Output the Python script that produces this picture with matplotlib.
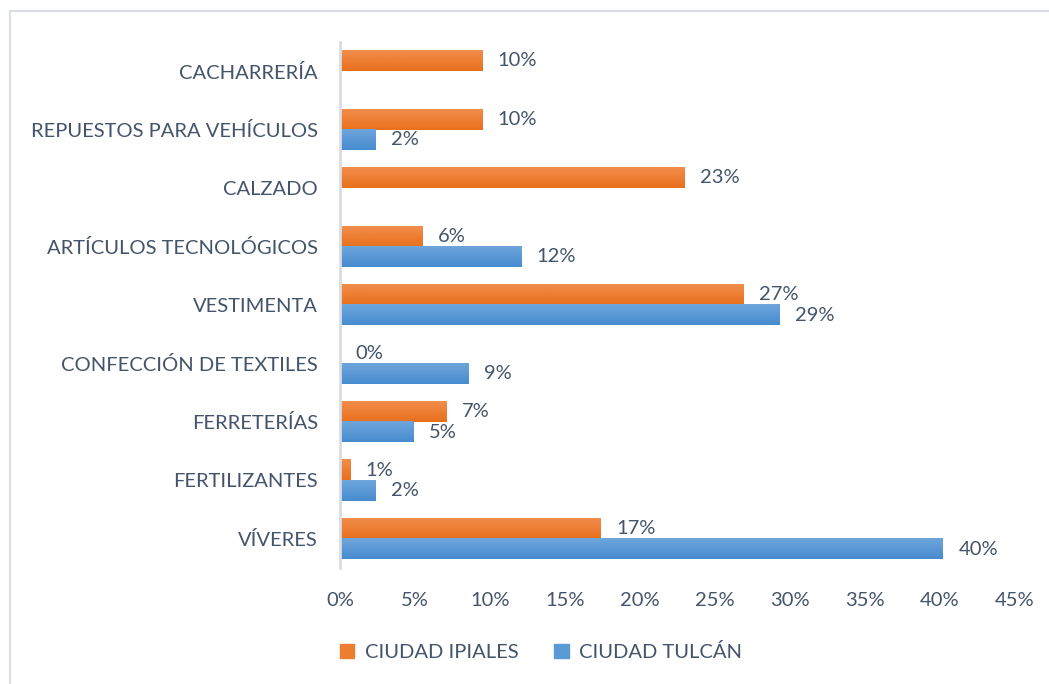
import matplotlib
matplotlib.use('Agg')
import matplotlib.pyplot as plt
import numpy as np
from matplotlib.lines import Line2D
from matplotlib.patches import Rectangle

plt.rcParams['font.family'] = ['Lato', 'DejaVu Sans']

# Datos
categorias = ['CACHARRERÍA', 'REPUESTOS PARA VEHÍCULOS', 'CALZADO',
              'ARTÍCULOS TECNOLÓGICOS', 'VESTIMENTA', 'CONFECCIÓN DE TEXTILES',
              'FERRETERÍAS', 'FERTILIZANTES', 'VÍVERES']
ipiales = [9.5, 9.5, 23.0, 5.5, 26.9, 0.0, 7.1, 0.7, 17.4]
tulcan = [None, 2.4, None, 12.1, 29.3, 8.6, 4.9, 2.4, 40.2]
ticks = [0, 5, 10, 15, 20, 25, 30, 35, 40, 45]

txt = '#44546A'
naranja = ('#F28D4C', '#E8701C')
azul = ('#6EA6DC', '#478BCF')

fig = plt.figure(figsize=(10.49, 6.84), dpi=100)
ax = fig.add_axes([340/1049, 116/684, 675/1049, 526/684])

h = 0.35
fs = 14.5
grad = np.linspace(0, 1, 50).reshape(-1, 1)

def barra(y, v, cols):
    c1 = np.array(matplotlib.colors.to_rgb(cols[0]))
    c2 = np.array(matplotlib.colors.to_rgb(cols[1]))
    img = c1 + (c2 - c1) * grad[:, :, None]
    ax.imshow(img, extent=[0, v, y + h/2, y - h/2], aspect='auto',
              origin='upper', zorder=2)

for i, cat in enumerate(categorias):
    v = ipiales[i]
    y = i - h/2
    if v > 0:
        barra(y, v, naranja)
    ax.annotate('%d%%' % round(v), (v, y), xytext=(11, 0), textcoords='offset points',
                va='center', ha='left', fontsize=fs, color=txt)
    v = tulcan[i]
    if v is None:
        continue
    y = i + h/2
    barra(y, v, azul)
    ax.annotate('%d%%' % round(v), (v, y), xytext=(11, 0), textcoords='offset points',
                va='center', ha='left', fontsize=fs, color=txt)

ax.set_xlim(0, 45)
ax.set_ylim(len(categorias) - 0.5, -0.5)
ax.set_yticks(range(len(categorias)))
ax.set_yticklabels(categorias)
ax.set_xticks(ticks)
ax.set_xticklabels(['%d%%' % t for t in ticks])
ax.tick_params(length=0, labelsize=fs, colors=txt)
ax.tick_params(axis='x', pad=17)
ax.tick_params(axis='y', pad=16)
for s in ['top', 'right', 'bottom']:
    ax.spines[s].set_visible(False)
ax.spines['left'].set_color('#D9DDE3')
ax.spines['left'].set_linewidth(2)

# leyenda
handles = [Rectangle((0, 0), 1, 1, color='#ED7D31'), Rectangle((0, 0), 1, 1, color='#5B9BD5')]
fig.legend(handles, ['CIUDAD IPIALES', 'CIUDAD TULCÁN'], loc='center',
           bbox_to_anchor=(541/1049, 1 - 652/684), ncol=2, frameon=False,
           fontsize=fs, labelcolor=txt, handlelength=0.7, handleheight=0.7,
           handletextpad=0.5, columnspacing=1.8)

# marco
fig.add_artist(Line2D([9.5/1049, 1], [1 - 10.5/684] * 2, color='#D9DEE5', lw=1.5))
fig.add_artist(Line2D([9.5/1049] * 2, [0, 1 - 10.5/684], color='#D9DEE5', lw=1.5))

fig.savefig('out.png', dpi=100)
